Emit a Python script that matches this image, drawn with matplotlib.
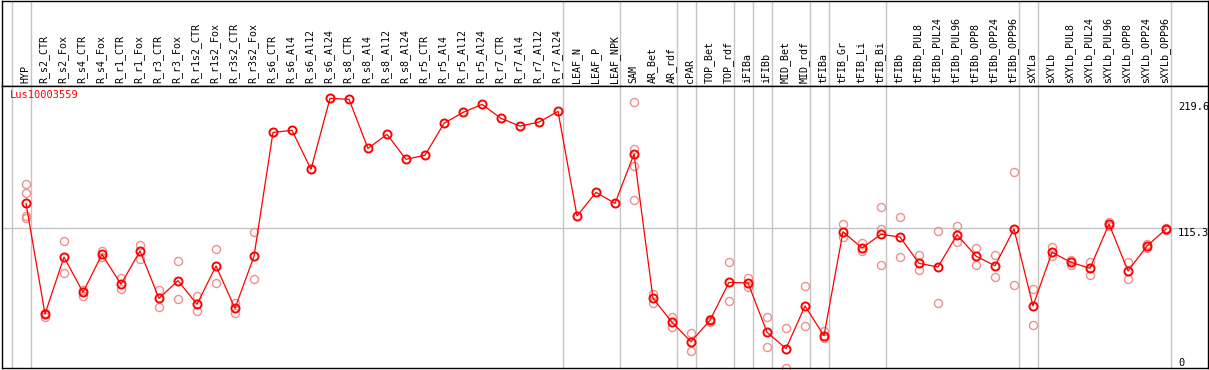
import matplotlib
matplotlib.use("Agg")
import matplotlib.pyplot as plt
import matplotlib.transforms as mtrans

# ---------------------------------------------------------------------------
# data
# ---------------------------------------------------------------------------
gene = "Lus10003559"

categories = [
    "HYP", "R_s2_CTR", "R_s2_Fox", "R_s4_CTR", "R_s4_Fox", "R_r1_CTR", "R_r1_Fox",
    "R_r3_CTR", "R_r3_Fox", "R_r1s2_CTR", "R_r1s2_Fox", "R_r3s2_CTR", "R_r3s2_Fox",
    "R_s6_CTR", "R_s6_Al4", "R_s6_Al12", "R_s6_Al24",
    "R_s8_CTR", "R_s8_Al4", "R_s8_Al12", "R_s8_Al24",
    "R_r5_CTR", "R_r5_Al4", "R_r5_Al12", "R_r5_Al24",
    "R_r7_CTR", "R_r7_Al4", "R_r7_Al12", "R_r7_Al24",
    "LEAF_N", "LEAF_P", "LEAF_NPK", "SAM", "AR_Bet", "AR_rdf", "cPAR",
    "TOP_Bet", "TOP_rdf", "iFIBa", "iFIBb", "MID_Bet", "MID_rdf", "tFIBa",
    "tFIB_Gr", "tFIB_Li", "tFIB_Bi", "tFIBb",
    "tFIBb_PUL8", "tFIBb_PUL24", "tFIBb_PUL96", "tFIBb_OPP8", "tFIBb_OPP24", "tFIBb_OPP96",
    "sXYLa", "sXYLb",
    "sXYLb_PUL8", "sXYLb_PUL24", "sXYLb_PUL96", "sXYLb_OPP8", "sXYLb_OPP24", "sXYLb_OPP96",
]

means = [
    135.9, 44.6, 91.6, 62.5, 93.8, 69.1, 96.6, 57.5, 72.1, 52.6, 84.2, 49.3, 92.2,
    194.5, 196.2, 164.0, 222.6,
    221.8, 181.3, 192.9, 172.3,
    175.6, 202.0, 211.0, 217.6,
    206.1, 199.7, 203.0, 211.9,
    125.5, 145.0, 135.9, 176.6, 57.5, 37.7, 21.7,
    39.4, 70.7, 70.2, 29.5, 16.0, 51.2, 26.7,
    112.5, 99.0, 110.4, 108.1,
    86.4, 83.4, 110.0, 92.4, 84.4, 114.7,
    51.2, 95.5,
    87.2, 82.3, 118.9, 80.1, 100.7, 114.7,
]

# individual replicates (empty where none are drawn)
replicates = [
    [151.9, 144.2, 125.5, 123.8], [45.6, 41.8], [104.8, 78.2], [64.4, 59.7],
    [96.8, 91.4], [74.0, 65.0], [101.3, 90.2], [64.1, 50.1], [88.1, 56.7],
    [59.2, 46.8], [98.0, 69.9], [53.9, 45.1], [112.0, 73.2],
    [], [], [], [],
    [], [], [], [],
    [], [], [], [],
    [], [], [], [],
    [], [], [], [219.6, 180.8, 167.0, 138.4], [61.1, 53.6], [42.1, 34.1], [28.6, 13.8],
    [40.2, 37.7], [87.2, 55.1], [74.3, 66.6], [41.8, 17.1], [32.8, 0.0], [67.7, 34.4], [30.8, 25.0],
    [118.6, 108.4], [103.2, 96.3], [132.6, 115.0, 85.0], [124.4, 91.6],
    [93.3, 80.9], [112.8, 53.4], [117.2, 103.7], [98.8, 85.0], [93.3, 74.9], [161.5, 68.5],
    [65.0, 35.2], [100.1, 92.4],
    [89.1, 85.0], [87.7, 76.5], [120.3, 117.5], [87.5, 73.2], [98.8, 102.6], [114.0, 115.4],
]

# group separators: drawn just right of these category indices
group_ends = [-1, 0, 28, 31, 34, 35, 37, 38, 39, 41, 42, 45, 52, 53, 60]

y_labels = [219.6, 115.3, 0]
y_max = 232.8

# ---------------------------------------------------------------------------
# figure
# ---------------------------------------------------------------------------
W, H = 1209, 370
fig = plt.figure(figsize=(W / 100, H / 100), dpi=100)

x0, x1 = 1.5 / W, 1207.5 / W
top_px = 86
ax_lab = fig.add_axes([x0, (H - top_px) / H, x1 - x0, (top_px - 0.5) / H])
ax = fig.add_axes([x0, (H - 368) / H, x1 - x0, (368 - top_px) / H])

xl = (-24.5 / 19, 1181.5 / 19)
n = len(categories)
xs = list(range(n))
grid_c = "#c4c4c4"
mono = "DejaVu Sans Mono"

for a in (ax, ax_lab):
    a.set_xlim(*xl)
    a.set_xticks([])
    a.set_yticks([])
    for s in a.spines.values():
        s.set_color("black")
        s.set_linewidth(1.0)
    for g in group_ends:
        a.axvline(g + 0.25, color=grid_c, lw=1.0, zorder=0)

# category labels, vertical
ax_lab.set_ylim(0, 1)
for i, name in enumerate(categories):
    ax_lab.text(i - 0.05, 0.03, name, rotation=90, ha="center", va="bottom",
                fontsize=7.2, family=mono, color="black")

# plot area
ax.set_ylim(0, y_max)
ax.axhline(115.3, color=grid_c, lw=1.0, zorder=0)

for i, reps in enumerate(replicates):
    if reps:
        ax.plot([i] * len(reps), reps, "o", ms=5.8, mfc="none", mec="#ee9090",
                mew=1.0, zorder=2, clip_on=False)

ax.plot(xs, means, "-", color="#ff0000", lw=0.9, zorder=3)
ax.plot(xs, means, "o", ms=5.8, mfc="none", mec="#ff0000", mew=1.4, zorder=4)

trans = mtrans.blended_transform_factory(ax.transData, ax.transAxes)
ax.text(-0.84, 0.985, gene, transform=trans, color="#ff0000",
        fontsize=7.5, family=mono, va="top", ha="left")

for v in y_labels:
    ax.text(60.63, v, format(v, "g"), fontsize=7.5, family=mono,
            ha="left", va="bottom" if v == 0 else "top", color="black")

fig.savefig("out.png", dpi=100)
